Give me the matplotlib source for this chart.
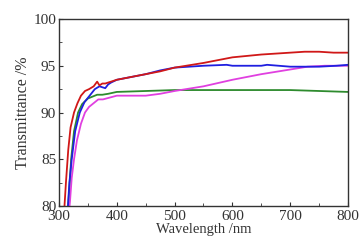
import numpy as np
import matplotlib.pyplot as plt
from matplotlib.ticker import MultipleLocator

# (nm, %T)
wl_red = [308, 312, 316, 320, 326, 332, 338, 345, 352, 360, 366, 370, 375, 380, 390, 400,
          425, 450, 475, 500, 550, 600, 650, 700, 725, 750, 775, 800]
t_red = [78.5, 82.5, 86.0, 88.4, 90.0, 91.0, 91.8, 92.3, 92.5, 92.8, 93.3, 92.9, 93.1, 93.1, 93.3, 93.5,
         93.8, 94.1, 94.4, 94.8, 95.3, 95.9, 96.2, 96.4, 96.5, 96.5, 96.4, 96.4]

wl_blue = [314, 318, 322, 328, 336, 344, 353, 362, 370, 375, 380, 385, 390, 400,
           425, 450, 475, 500, 550, 590, 600, 650, 660, 700, 750, 780, 800]
t_blue = [78.5, 82.5, 85.0, 88.0, 90.0, 91.1, 91.8, 92.5, 92.8, 92.7, 92.6, 93.0, 93.2, 93.5,
          93.8, 94.1, 94.5, 94.8, 95.0, 95.1, 95.0, 95.0, 95.1, 94.9, 94.9, 95.0, 95.1]

wl_green = [314, 318, 321, 326, 333, 340, 350, 358, 366, 375, 385, 400,
            450, 500, 550, 600, 650, 700, 750, 800]
t_green = [78.5, 82.0, 85.0, 88.0, 90.0, 90.9, 91.5, 91.7, 91.9, 91.9, 92.0, 92.2,
           92.3, 92.4, 92.4, 92.4, 92.4, 92.4, 92.3, 92.2]

wl_mag = [316, 319, 322, 326, 331, 338, 345, 352, 360, 368, 376, 388, 400,
          425, 450, 475, 500, 550, 600, 650, 700, 730, 760, 800]
t_mag = [78.5, 80.5, 83.0, 85.0, 87.0, 88.8, 90.0, 90.6, 91.0, 91.4, 91.4, 91.6, 91.8,
         91.8, 91.8, 92.0, 92.3, 92.8, 93.5, 94.1, 94.6, 94.9, 95.0, 95.0]

plt.rcParams['font.family'] = ['Liberation Serif', 'DejaVu Serif']

fig = plt.figure(figsize=(3.6, 2.44), dpi=100)
ax = fig.add_axes([59/360, 1 - 206/244, 289/360, 187/244])

lw = 1.3
ax.plot(wl_green, t_green, color='#2e8b2e', lw=lw)
ax.plot(wl_mag, t_mag, color='#e040e0', lw=lw)
ax.plot(wl_blue, t_blue, color='#1f1fe0', lw=lw)
ax.plot(wl_red, t_red, color='#d01818', lw=lw)

ax.set_xlim(300, 800)
ax.set_ylim(80, 100)
ax.xaxis.set_major_locator(MultipleLocator(100))
ax.xaxis.set_minor_locator(MultipleLocator(50))
ax.yaxis.set_major_locator(MultipleLocator(5))
ax.yaxis.set_minor_locator(MultipleLocator(2.5))
ax.tick_params(which='both', direction='in', labelsize=11, colors='#333333')
ax.tick_params(axis='x', pad=3)
ax.tick_params(axis='y', pad=2)
ax.tick_params(which='major', length=3)
ax.tick_params(which='minor', length=2)
for s in ax.spines.values():
    s.set_color('#333333')
    s.set_linewidth(1.0)

ax.set_xlabel('Wavelength /nm', fontsize=10.5, color='#333333', labelpad=0)
ax.set_ylabel('Transmittance /%', fontsize=11.5, color='#333333', labelpad=2)

fig.savefig('out.png', dpi=100)
